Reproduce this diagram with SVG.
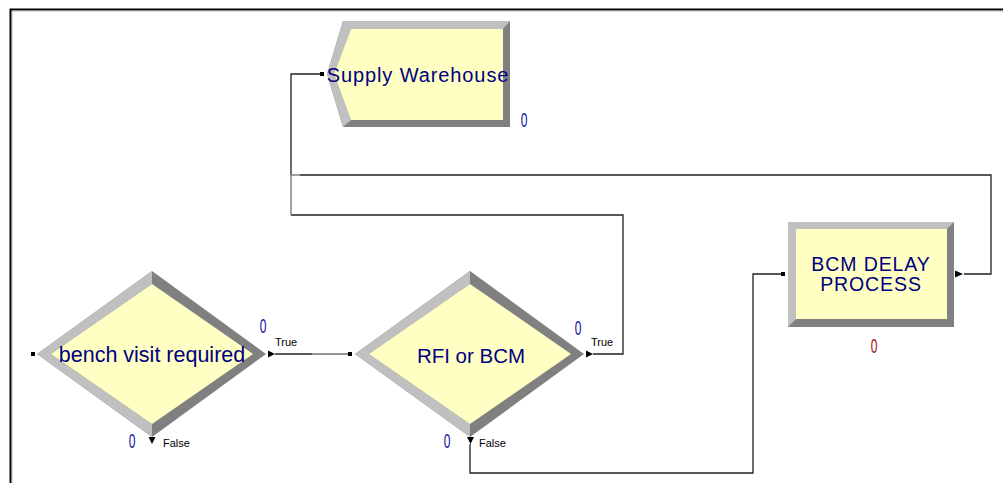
<svg xmlns="http://www.w3.org/2000/svg" width="1003" height="483" viewBox="0 0 1003 483">
<style>
.dark{fill:#808080}
.light{fill:#c0c0c0}
.face{fill:#ffffc4}
.lbl{font-family:"Liberation Sans",Arial,sans-serif;fill:#000080}
.cnt{font-family:"Liberation Sans",Arial,sans-serif;font-size:20px;fill:#1010a0}
.tf{font-family:"Liberation Sans",Arial,sans-serif;font-size:11px;fill:#000}
.wire{fill:none;stroke:#202020;stroke-width:1.3}
.wire2{fill:none;stroke:#707070;stroke-width:1.3}
.arr{fill:#000}
.port{fill:#000}
</style>
<rect width="1003" height="483" fill="#fff"/>
<path d="M10.5,483 V9.5 H1003" fill="none" stroke="#000" stroke-width="2"/>
<path d="M12,483 V11 H1003" fill="none" stroke="#a0a0a0" stroke-width="0.8"/>
<g id="connectors">
<path class="wire" d="M275,354 H312"/>
<path class="wire2" d="M312,354 H350"/>
<path class="wire" d="M593,354 H623 V215 H291"/>
<path class="wire2" d="M291,215 V175"/>
<path class="wire" d="M291,175 V74 H322"/>
<path class="wire" d="M470,444 V473 H753 V274 H783"/>
<path class="wire" d="M964,274 H991 V175 H300"/>
<path class="wire2" d="M300,175 H291"/>
</g>
<g id="supply-warehouse">
<polygon class="dark" points="327,74 343,21 510,21 510,127 343,127"/>
<polygon class="light" points="327,74 343,21 510,21 503,29 351,29 334,74 351,120 343,127"/>
<polygon class="face" points="334,74 351,29 503,29 503,120 351,120"/>
<rect class="port" x="320" y="72" width="4" height="4"/>
<text class="lbl" x="418" y="82" font-size="20" letter-spacing="0.9" text-anchor="middle">Supply Warehouse</text>
<text class="cnt" transform="translate(524,127) scale(0.6,1)" text-anchor="middle">0</text>
</g>
<g id="bench-visit-required">
<polygon class="dark" points="37,354 152,271 266,354 152,437"/>
<polygon class="light" points="37,354 152,271 152,284 51,354 152,424 152,437"/>
<polygon class="face" points="51,354 152,284 253,354 152,424"/>
<rect class="port" x="31" y="352" width="4" height="4"/>
<text class="lbl" x="152" y="362" font-size="21.5" text-anchor="middle">bench visit required</text>
<polygon class="arr" points="268,350.5 268,357.5 275,354"/>
<polygon class="arr" points="148.5,437 155.5,437 152,444"/>
<text class="tf" x="275" y="346">True</text>
<text class="tf" x="163" y="447">False</text>
<text class="cnt" transform="translate(263,333) scale(0.6,1)" text-anchor="middle">0</text>
<text class="cnt" transform="translate(132,448) scale(0.6,1)" text-anchor="middle">0</text>
</g>
<g id="rfi-or-bcm">
<polygon class="dark" points="355,354 470,271 584,354 470,437"/>
<polygon class="light" points="355,354 470,271 470,284 369,354 470,424 470,437"/>
<polygon class="face" points="369,354 470,284 571,354 470,424"/>
<rect class="port" x="348" y="352" width="4" height="4"/>
<text class="lbl" x="471" y="363" font-size="20.5" text-anchor="middle">RFI or BCM</text>
<polygon class="arr" points="586,350.5 586,357.5 593,354"/>
<polygon class="arr" points="467,437 474,437 470.5,444"/>
<text class="tf" x="591" y="346">True</text>
<text class="tf" x="479" y="447">False</text>
<text class="cnt" transform="translate(578,335) scale(0.6,1)" text-anchor="middle">0</text>
<text class="cnt" transform="translate(447,448) scale(0.6,1)" text-anchor="middle">0</text>
</g>
<g id="bcm-delay-process">
<rect class="dark" x="788" y="222" width="166" height="105"/>
<polygon class="light" points="788,222 954,222 947,229 796,229 796,319 788,327"/>
<rect class="face" x="796" y="229" width="151" height="90"/>
<rect class="port" x="781" y="272" width="4" height="4"/>
<text class="lbl" font-size="19.5" letter-spacing="0.9" text-anchor="middle"><tspan x="871" y="271">BCM DELAY</tspan><tspan x="871" y="291">PROCESS</tspan></text>
<polygon class="arr" points="955,270.5 955,277.5 963,274"/>
<text class="cnt" transform="translate(874,353) scale(0.6,1)" text-anchor="middle" style="fill:#a01010">0</text>
</g>
</svg>
